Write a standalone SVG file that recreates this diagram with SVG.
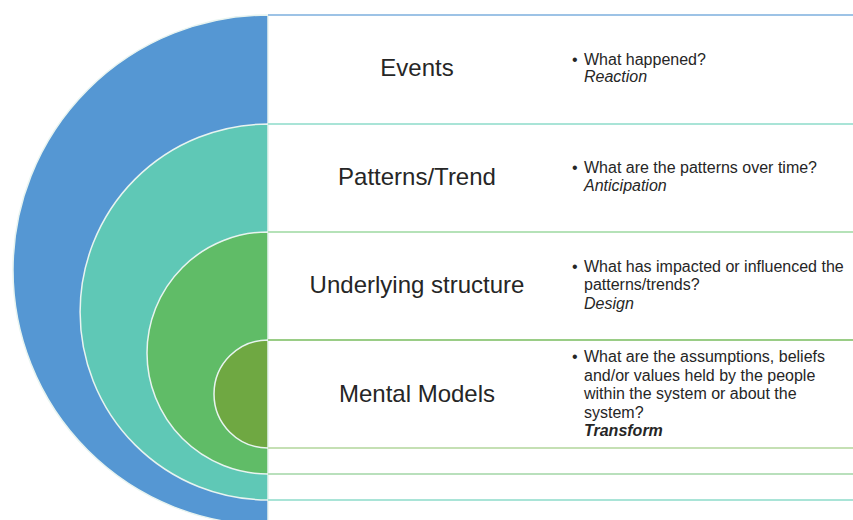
<svg xmlns="http://www.w3.org/2000/svg" width="853" height="520" viewBox="0 0 853 520">
<style>
.ring{stroke:#e8f4f0;stroke-width:1.5}
.row{stroke-width:2;fill:none}
.lbl{font-family:"Liberation Sans",Arial,sans-serif;font-size:24px;fill:#262626;text-anchor:middle}
.txt{font-family:"Liberation Sans",Arial,sans-serif;font-size:16px;fill:#262626}
.it{font-style:italic}
.bi{font-style:italic;font-weight:bold}
</style>
<rect width="853" height="520" fill="#ffffff"/>
<g id="events">
  <path class="ring" d="M268,15 A255,255 0 0 0 268,525 Z" fill="#5597D3"/>
  <line class="row" x1="268" y1="15" x2="853" y2="15" stroke="#9DC3E6"/>
  <text class="lbl" x="417" y="76">Events</text>
  <text class="txt" x="572" y="65">•</text>
  <text class="txt" x="584" y="65">What happened?</text>
  <text class="txt it" x="584" y="82">Reaction</text>
</g>
<g id="patterns">
  <path class="ring" d="M268,124 A188,188 0 0 0 268,500 Z" fill="#5FC8B6"/>
  <line class="row" x1="268" y1="124" x2="853" y2="124" stroke="#A9E4D7"/>
  <line class="row" x1="268" y1="500" x2="853" y2="500" stroke="#A9E4D7"/>
  <text class="lbl" x="417" y="185">Patterns/Trend</text>
  <text class="txt" x="572" y="173">•</text>
  <text class="txt" x="584" y="173">What are the patterns over time?</text>
  <text class="txt it" x="584" y="191">Anticipation</text>
</g>
<g id="structure">
  <path class="ring" d="M268,232 A121,121 0 0 0 268,474 Z" fill="#60BC67"/>
  <line class="row" x1="268" y1="232" x2="853" y2="232" stroke="#B5E2B8"/>
  <line class="row" x1="268" y1="474" x2="853" y2="474" stroke="#B9E0BC"/>
  <text class="lbl" x="417" y="293">Underlying structure</text>
  <text class="txt" x="572" y="272">•</text>
  <text class="txt" x="584" y="272">What has impacted or influenced the</text>
  <text class="txt" x="584" y="290">patterns/trends?</text>
  <text class="txt it" x="584" y="309">Design</text>
</g>
<g id="mental-models">
  <path class="ring" d="M268,340 A54,54 0 0 0 268,448 Z" fill="#6FA842"/>
  <line class="row" x1="268" y1="340" x2="853" y2="340" stroke="#9ACD86"/>
  <line class="row" x1="268" y1="448" x2="853" y2="448" stroke="#C5E0B4"/>
  <text class="lbl" x="417" y="402">Mental Models</text>
  <text class="txt" x="572" y="362">•</text>
  <text class="txt" x="584" y="362">What are the assumptions, beliefs</text>
  <text class="txt" x="584" y="381">and/or values held by the people</text>
  <text class="txt" x="584" y="399">within the system or about the</text>
  <text class="txt" x="584" y="418">system?</text>
  <text class="txt bi" x="584" y="436">Transform</text>
</g>
<g id="connectors"></g>
</svg>
